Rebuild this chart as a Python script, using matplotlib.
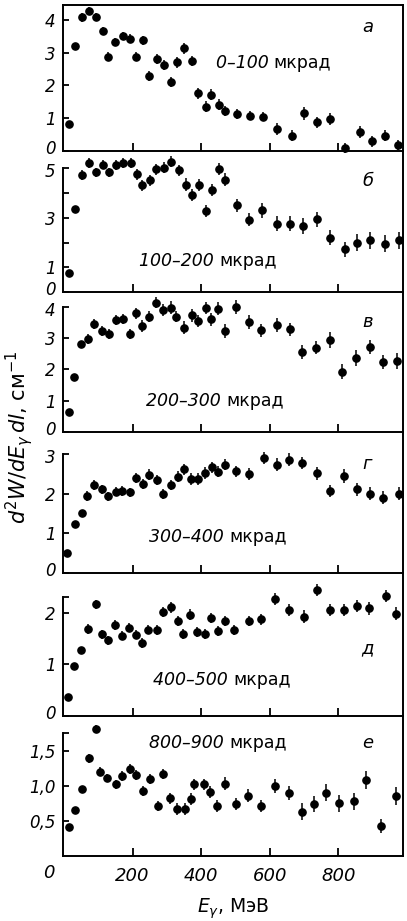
import numpy as np
import matplotlib
matplotlib.use("Agg")
import matplotlib.pyplot as plt
from matplotlib.lines import Line2D
from matplotlib.transforms import ScaledTranslation

plt.rcParams['font.family'] = ['DejaVu Sans']
plt.rcParams['mathtext.fontset'] = 'dejavusans'

# photon energy (MeV), d2W/dE dl values and their errors for each angular bin
e_a = [13, 32, 52, 73, 92, 113, 129, 150, 173, 192, 210, 231, 249, 270, 292, 312, 331, 350, 372,
       392, 413, 430, 452, 471, 506, 542, 581, 622, 666, 700, 739, 775, 821, 863, 899, 938, 975]
w_a = [0.82, 3.21, 4.08, 4.26, 4.08, 3.67, 2.87, 3.31, 3.51, 3.42, 2.87, 3.38, 2.28, 2.80, 2.62,
       2.10, 2.70, 3.13, 2.74, 1.76, 1.35, 1.71, 1.41, 1.23, 1.13, 1.08, 1.05, 0.67, 0.46, 1.15,
       0.87, 0.97, 0.10, 0.58, 0.29, 0.46, 0.18]
s_a = [0, 0, 0.14, 0.12, 0.12, 0.12, 0.14, 0.12, 0.12, 0.14, 0.14, 0.14, 0.15, 0.15, 0.15, 0.15,
       0.17, 0.17, 0.15, 0.17, 0.17, 0.17, 0.17, 0.15, 0.15, 0.15, 0.15, 0.17, 0.17, 0.19, 0.17,
       0.19, 0.15, 0.17, 0.17, 0.17, 0.15]

e_b = [13, 32, 52, 73, 92, 113, 132, 152, 173, 195, 212, 228, 251, 268, 292, 312, 335, 355, 372,
       394, 414, 432, 453, 471, 505, 539, 579, 620, 659, 698, 737, 775, 821, 856, 894, 938, 977]
w_b = [0.77, 3.35, 4.73, 5.23, 4.84, 5.16, 4.84, 5.14, 5.23, 5.24, 4.76, 4.32, 4.53, 4.96, 5.04,
       5.27, 4.93, 4.35, 3.92, 4.32, 3.28, 4.12, 4.97, 4.55, 3.51, 2.93, 3.31, 2.77, 2.77, 2.68,
       2.95, 2.20, 1.73, 2.00, 2.09, 1.96, 2.09]
s_b = [0, 0, 0.2, 0.2, 0.2, 0.2, 0.2, 0.2, 0.2, 0.2, 0.22, 0.22, 0.22, 0.22, 0.22, 0.22, 0.22,
       0.25, 0.25, 0.25, 0.25, 0.25, 0.25, 0.25, 0.27, 0.27, 0.3, 0.3, 0.3, 0.33, 0.3, 0.3, 0.3,
       0.33, 0.33, 0.33, 0.35]

e_c = [13, 29, 49, 71, 88, 110, 131, 151, 171, 192, 210, 226, 249, 267, 290, 312, 327, 350, 372,
       390, 413, 429, 450, 469, 501, 540, 576, 620, 659, 695, 735, 775, 811, 853, 894, 931, 972]
w_c = [0.64, 1.76, 2.80, 2.98, 3.44, 3.23, 3.12, 3.58, 3.63, 3.12, 3.80, 3.39, 3.69, 4.14, 3.90,
       3.98, 3.69, 3.34, 3.73, 3.55, 3.96, 3.60, 3.95, 3.23, 4.00, 3.53, 3.25, 3.42, 3.28, 2.57,
       2.70, 2.94, 1.93, 2.37, 2.73, 2.24, 2.27]
s_c = [0, 0, 0, 0.16, 0.16, 0.16, 0.16, 0.16, 0.16, 0.16, 0.18, 0.18, 0.18, 0.18, 0.2, 0.2, 0.18,
       0.2, 0.2, 0.2, 0.2, 0.2, 0.2, 0.22, 0.22, 0.22, 0.2, 0.22, 0.22, 0.22, 0.22, 0.25, 0.25,
       0.25, 0.22, 0.22, 0.25]

e_d = [8, 32, 52, 68, 88, 110, 129, 151, 170, 192, 210, 229, 249, 270, 290, 312, 333, 351, 370,
       390, 411, 431, 450, 471, 501, 539, 584, 620, 657, 695, 737, 777, 816, 856, 894, 931, 977]
w_d = [0.51, 1.24, 1.52, 1.94, 2.22, 2.11, 1.93, 2.05, 2.07, 2.03, 2.39, 2.24, 2.48, 2.35, 2.00,
       2.22, 2.43, 2.62, 2.37, 2.37, 2.52, 2.66, 2.55, 2.73, 2.56, 2.49, 2.90, 2.73, 2.86, 2.77,
       2.51, 2.07, 2.45, 2.11, 2.00, 1.90, 2.00]
s_d = [0, 0, 0, 0.12, 0.12, 0.12, 0.12, 0.12, 0.12, 0.12, 0.13, 0.13, 0.13, 0.13, 0.13, 0.13,
       0.14, 0.14, 0.14, 0.14, 0.14, 0.14, 0.14, 0.14, 0.14, 0.15, 0.16, 0.16, 0.17, 0.16, 0.16,
       0.16, 0.17, 0.16, 0.17, 0.17, 0.16]

e_e = [11, 29, 49, 71, 92, 110, 127, 149, 170, 190, 209, 228, 246, 270, 290, 312, 333, 346, 367,
       387, 411, 428, 448, 469, 496, 540, 576, 617, 657, 700, 739, 777, 816, 855, 890, 939, 970]
w_e = [0.37, 0.96, 1.28, 1.68, 2.16, 1.58, 1.46, 1.76, 1.55, 1.71, 1.57, 1.41, 1.67, 1.66, 2.01,
       2.10, 1.84, 1.58, 1.96, 1.62, 1.58, 1.90, 1.64, 1.84, 1.66, 1.84, 1.87, 2.26, 2.05, 1.92,
       2.43, 2.05, 2.05, 2.13, 2.08, 2.32, 1.98]
s_e = [0, 0, 0, 0.09, 0.09, 0.09, 0.09, 0.09, 0.09, 0.09, 0.09, 0.09, 0.09, 0.09, 0.1, 0.1, 0.1,
       0.1, 0.1, 0.1, 0.1, 0.1, 0.1, 0.1, 0.1, 0.1, 0.11, 0.12, 0.12, 0.12, 0.12, 0.12, 0.12,
       0.12, 0.12, 0.12, 0.13]

e_f = [13, 32, 52, 74, 92, 105, 126, 151, 168, 191, 210, 231, 251, 273, 290, 309, 329, 353, 369,
       380, 408, 426, 445, 469, 503, 537, 576, 615, 657, 695, 729, 763, 802, 847, 880, 926, 968]
w_f = [0.41, 0.65, 0.95, 1.39, 1.81, 1.20, 1.11, 1.02, 1.14, 1.24, 1.15, 0.92, 1.09, 0.71, 1.17,
       0.82, 0.67, 0.67, 0.81, 1.02, 1.02, 0.91, 0.71, 1.03, 0.74, 0.86, 0.71, 1.00, 0.89, 0.63,
       0.74, 0.90, 0.75, 0.78, 1.08, 0.43, 0.85]
s_f = [0, 0, 0, 0.06, 0.06, 0.06, 0.06, 0.06, 0.07, 0.07, 0.07, 0.07, 0.07, 0.07, 0.07, 0.08,
       0.08, 0.08, 0.08, 0.08, 0.08, 0.08, 0.08, 0.09, 0.09, 0.09, 0.09, 0.1, 0.1, 0.12, 0.12,
       0.12, 0.12, 0.12, 0.13, 0.1, 0.13]

ranges = ['0–100', '100–200', '200–300', '300–400', '400–500', '800–900']
letters = ['а', 'б', 'в', 'г', 'д', 'е']
ymax = [4.45, 5.0, 4.0, 3.0, 2.3, 1.75]
yticks = [[0, 1, 2, 3, 4], [0, 1, 2, 3, 4, 5], [0, 1, 2, 3, 4], [0, 1, 2, 3],
          [0, 1, 2, 2.3], [0.5, 1.0, 1.5, 1.75]]
ylabels = [['0', '1', '2', '3', '4'], ['0', '1', '', '3', '', '5'], ['0', '1', '2', '3', '4'],
           ['0', '1', '2', '3'], ['0', '1', '2', ''], ['0,5', '1,0', '1,5', '']]
xticks = [200, 400, 600, 800]

# panel frames in pixels (top, bottom) on a 407 x 921 canvas
W, H = 407, 921
rows = [(5, 151), (168.5, 292), (307, 432), (454, 573), (597, 716), (733, 856)]
x0, x1 = 62.7, 403.3
# text placement in axes fractions: (range x, range y, letter y)
txt = [(0.62, 0.60, 0.85), (0.46, 0.25, 0.90), (0.48, 0.25, 0.88), (0.49, 0.30, 0.92),
       (0.50, 0.30, 0.57), (0.49, 0.92, 0.92)]

data = [(e_a, w_a, s_a), (e_b, w_b, s_b), (e_c, w_c, s_c),
        (e_d, w_d, s_d), (e_e, w_e, s_e), (e_f, w_f, s_f)]

fig = plt.figure(figsize=(W / 100, H / 100), dpi=100)

def nudge(label, dy_px):
    # shift a tick label vertically by a few pixels
    label.set_transform(label.get_transform() +
                        ScaledTranslation(0, dy_px / 100, fig.dpi_scale_trans))

for i, (e, w, s) in enumerate(data):
    top, bot = rows[i]
    ax = fig.add_axes([x0 / W, 1 - bot / H, (x1 - x0) / W, (bot - top) / H])
    ax.errorbar(e, w, yerr=s, fmt='o', color='black', ms=5.2, elinewidth=1.1,
                capsize=0, clip_on=False)
    ax.set_xlim(-4, 990)
    ax.set_ylim(0, ymax[i])
    for side in ['left', 'bottom', 'top']:
        ax.spines[side].set_linewidth(1.4)
    ax.spines['top'].set_visible(i == 0)
    ax.spines['right'].set_visible(False)
    ax.set_xticks(xticks)
    ax.set_yticks(yticks[i])
    ax.set_yticklabels(ylabels[i], fontsize=12, fontstyle='italic')
    ax.tick_params(axis='x', direction='in', length=6, width=1.3, top=False)
    ax.tick_params(axis='y', direction='in', length=4.5, width=1.3, right=False, pad=5)
    labels = ax.get_yticklabels()
    if i < 5:
        # lift the zero label, lower the top label so neighbouring panels don't collide
        nudge(labels[0], 4)
    if i > 0:
        nudge(labels[-1], -2)
    if i < 5:
        ax.set_xticklabels([])
    else:
        ax.set_xticklabels([str(t) for t in xticks], fontsize=13, fontstyle='italic')
        ax.tick_params(axis='x', pad=8)
        ax.text(-0.04, -0.135, '0', transform=ax.transAxes, fontsize=13,
                fontstyle='italic', ha='center', va='center')
        ax.set_xlabel(r'$E_\gamma$, МэВ', fontsize=13.5, labelpad=8)
    tx, ty, ly = txt[i]
    ax.text(tx, ty, ranges[i] + ' ', transform=ax.transAxes, fontsize=12.5,
            fontstyle='italic', ha='right', va='center')
    ax.text(tx, ty, 'мкрад', transform=ax.transAxes, fontsize=12.5,
            ha='left', va='center')
    ax.text(0.895, ly, letters[i], transform=ax.transAxes, fontsize=13,
            fontstyle='italic', ha='center', va='center')

# common right border running down the whole stack
fig.add_artist(Line2D([x1 / W, x1 / W], [1 - rows[0][0] / H, 1 - rows[-1][1] / H],
                      color='black', lw=1.4))

fig.text(19 / W, 1 - 437 / H, r'$d^2W/dE_\gamma\,dl$, см$^{-1}$', rotation=90,
         fontsize=15, ha='center', va='center')

fig.savefig('out.png', dpi=100)
